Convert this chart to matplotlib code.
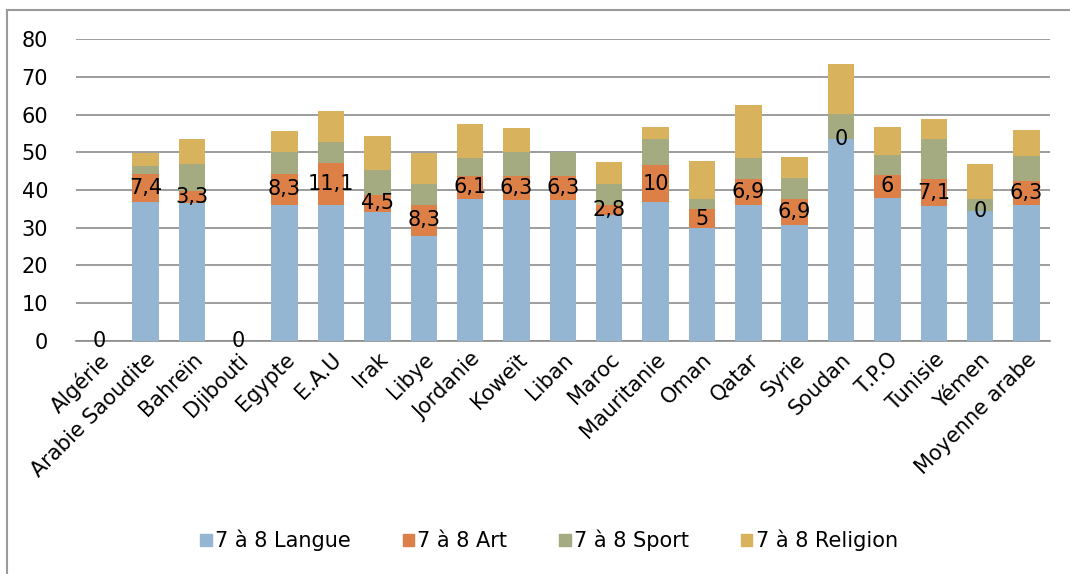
import matplotlib.pyplot as plt
import numpy as np
from matplotlib.lines import Line2D

pays = ['Algérie', 'Arabie Saoudite', 'Bahreïn', 'Djibouti', 'Egypte', 'E.A.U',
        'Irak', 'Libye', 'Jordanie', 'Koweït', 'Liban', 'Maroc', 'Mauritanie',
        'Oman', 'Qatar', 'Syrie', 'Soudan', 'T.P.O', 'Tunisie', 'Yémen',
        'Moyenne arabe']

langue = [0, 36.9, 36.5, 0, 36.0, 36.0, 34.2, 27.8, 37.7, 37.4, 37.4, 33.3,
          36.7, 29.9, 36.1, 30.6, 53.4, 38.0, 35.7, 34.4, 36.1]
art = [0, 7.4, 3.3, 0, 8.3, 11.1, 4.5, 8.3, 6.1, 6.3, 6.3, 2.8, 10, 5, 6.9,
       6.9, 0, 6, 7.1, 0, 6.3]
sport = [0, 2.0, 7.0, 0, 5.7, 5.6, 6.5, 5.5, 4.7, 6.3, 6.3, 5.5, 6.7, 2.7,
         5.6, 5.6, 6.7, 5.2, 10.7, 3.1, 6.6]
religion = [0, 3.6, 6.6, 0, 5.5, 8.2, 9.0, 8.3, 9.0, 6.4, 0, 5.7, 3.3, 10.0,
            13.8, 5.6, 13.4, 7.6, 5.3, 9.3, 7.0]

series = [
    ('7 à 8 Langue', langue, '#94B6D2'),
    ('7 à 8 Art', art, '#DD8047'),
    ('7 à 8 Sport', sport, '#A5AB81'),
    ('7 à 8 Religion', religion, '#D8B25C'),
]

plt.rcParams['font.family'] = ['DejaVu Sans']

fig = plt.figure(figsize=(10.7, 5.74), dpi=100)
ax = fig.add_axes([0.071, 0.406, 0.910, 0.526])

x = np.arange(len(pays))
bottom = np.zeros(len(pays))
for name, vals, color in series:
    vals = np.array(vals, dtype=float)
    ax.bar(x, vals, 0.57, bottom=bottom, color=color, label=name, zorder=3)
    if name == '7 à 8 Art':
        for xi, b, v in zip(x, bottom, vals):
            txt = f'{v:g}'.replace('.', ',')
            ax.text(xi, b + v / 2, txt, ha='center', va='center',
                    fontsize=15, color='black', zorder=5)
    bottom += vals

ax.set_xlim(-0.5, len(pays) - 0.5)
ax.set_ylim(0, 80)
ax.set_yticks(range(0, 81, 10))
ax.yaxis.grid(True, color='#8c8c8c', linewidth=1.2, zorder=0)
for s in ['top', 'right', 'left']:
    ax.spines[s].set_visible(False)
ax.spines['bottom'].set_color('#8c8c8c')
ax.spines['bottom'].set_linewidth(1.2)
ax.tick_params(axis='both', length=0, labelsize=15)
ax.tick_params(axis='y', pad=20)
ax.set_xticks(x)
ax.set_xticklabels(pays, rotation=45, ha='right', rotation_mode='anchor')
ax.tick_params(axis='x', pad=6)

handles = [plt.Rectangle((0, 0), 1, 1, color=c) for _, _, c in series]
fig.legend(handles, [n for n, _, _ in series], loc='center',
           bbox_to_anchor=(0.513, 0.058), ncol=4, frameon=False, fontsize=15,
           handlelength=0.55, handleheight=0.55, handletextpad=0.15,
           columnspacing=2.5)

# cadre du graphique
fig.add_artist(Line2D([7 / 1070, 1], [1 - 10 / 574, 1 - 10 / 574],
                      color='#9a9a9a', linewidth=1.5, transform=fig.transFigure))
fig.add_artist(Line2D([7 / 1070, 7 / 1070], [0, 1 - 10 / 574],
                      color='#9a9a9a', linewidth=1.5, transform=fig.transFigure))

fig.savefig('out.png', dpi=100)
